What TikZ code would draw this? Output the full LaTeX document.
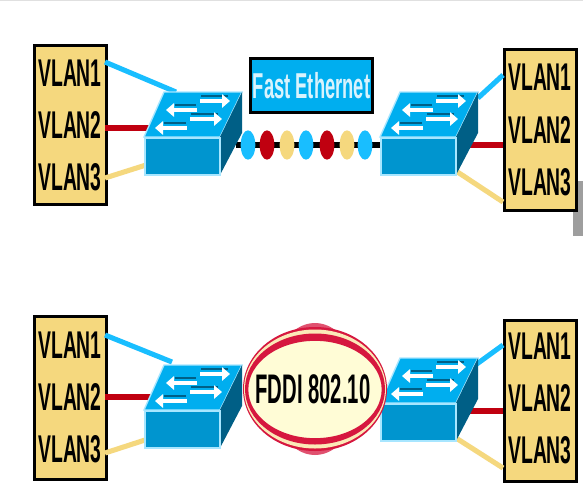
\documentclass[tikz,border=0pt]{standalone}
\usepackage{fontspec}
\setmainfont{Liberation Sans}
\usetikzlibrary{arrows.meta,shapes.geometric}
\definecolor{vyellow}{HTML}{F5D87E}
\definecolor{vred}{HTML}{C00010}
\definecolor{vblue}{HTML}{19BEFF}
\definecolor{swtop}{HTML}{00AEEF}
\definecolor{swfront}{HTML}{0095CF}
\definecolor{swside}{HTML}{005F86}
\definecolor{swedge}{HTML}{A8E6FF}
\definecolor{ringred}{HTML}{D6173F}
\definecolor{ringcream}{HTML}{FBE9B8}
\definecolor{fddi}{HTML}{FFFCD6}
\newcommand{\narrow}[2]{\scalebox{#1}[1]{#2}}
\tikzset{
  x=.75pt,y=-.75pt,
  vlanbox/.style={draw=black,fill=vyellow,line width=2.3pt,minimum width=54pt,inner sep=0pt},
  vlantext/.style={font=\fontsize{29}{29}\selectfont\bfseries,text=black,inner sep=0pt},
  link/.style={line width=3.8pt},
  redlink/.style={line width=5pt},
  swarrow/.style={draw=white,line width=3.6pt,-{Triangle[length=6pt,width=10pt]}},
  swshadow/.style={draw=swside,line width=1.5pt},
  bead/.style={ellipse,minimum width=11pt,minimum height=22pt,inner sep=0pt},
  netswitch/.pic={
    \fill[swtop,draw=swedge,line width=1pt] (0,0) -- (20,-45) -- (98,-45) -- (76,0) -- cycle;
    \fill[swside] (76,0) -- (98,-45) -- (98,-4) -- (76,38) -- cycle;
    \node[draw=swedge,fill=swfront,line width=1.4pt,minimum width=56pt,minimum height=28pt,inner sep=0pt,anchor=north west] (-front) at (0,0) {};
    \draw[swshadow] (57,-41) -- (84,-41);
    \draw[swarrow] (56,-36) -- (86,-36);
    \draw[swshadow] (31,-32) -- (52,-32);
    \draw[swarrow] (53,-27) -- (22,-27);
    \draw[swshadow] (47,-23) -- (74,-23);
    \draw[swarrow] (46,-18) -- (78,-18);
    \draw[swshadow] (20,-14) -- (42,-14);
    \draw[swarrow] (43,-9) -- (11,-9);
  }
}
\begin{document}
\begin{tikzpicture}
\useasboundingbox (0,0) rectangle (583,501);
\fill[white] (0,0) rectangle (583,501);
\fill[black!12] (0,0) rectangle (583,1);
\node[fill=black!38,minimum width=7.5pt,minimum height=41pt,inner sep=0pt,anchor=north west] (scrollbar) at (573,181) {};

% VLAN boxes
\node[vlanbox,minimum height=119pt,anchor=north west] (boxA) at (33,44) {};
\node[vlanbox,minimum height=121pt,anchor=north west] (boxB) at (503,48) {};
\node[vlanbox,minimum height=122pt,anchor=north west] (boxC) at (33,315) {};
\node[vlanbox,minimum height=121pt,anchor=north west] (boxD) at (503,319) {};

% Connector ends
\coordinate (a1) at (105,62);  \coordinate (a1s) at (176,92);
\coordinate (a2) at (105,128); \coordinate (a2s) at (150,128);
\coordinate (a3) at (105,178); \coordinate (a3s) at (146,165);
\coordinate (b1) at (503,75);  \coordinate (b1s) at (478,98);
\coordinate (b2) at (503,145); \coordinate (b2s) at (470,145);
\coordinate (b3) at (503,202); \coordinate (b3s) at (456,171);
\coordinate (c1) at (105,335); \coordinate (c1s) at (172,362);
\coordinate (c2) at (105,397); \coordinate (c2s) at (152,397);
\coordinate (c3) at (105,453); \coordinate (c3s) at (145,440);
\coordinate (d1) at (503,345); \coordinate (d1s) at (474,366);
\coordinate (d2) at (503,411); \coordinate (d2s) at (468,411);
\coordinate (d3) at (503,468); \coordinate (d3s) at (456,438);

\draw[link,vblue] (a1) -- (a1s);  \draw[redlink,vred] (a2) -- (a2s);  \draw[link,vyellow] (a3) -- (a3s);
\draw[link,vblue] (b1) -- (b1s);  \draw[redlink,vred] (b2) -- (b2s);  \draw[link,vyellow] (b3) -- (b3s);
\draw[link,vblue] (c1) -- (c1s);  \draw[redlink,vred] (c2) -- (c2s);  \draw[link,vyellow] (c3) -- (c3s);
\draw[link,vblue] (d1) -- (d1s);  \draw[redlink,vred] (d2) -- (d2s);  \draw[link,vyellow] (d3) -- (d3s);

% VLAN labels
\foreach \n/\x/\ya/\yb/\yc in {A/70/73/125/177, B/540/77/130/182, C/70/345/397/449, D/540/346/398/450}{
  \node[vlantext] (lab\n1) at (\x,\ya) {\narrow{.5}{VLAN1}};
  \node[vlantext] (lab\n2) at (\x,\yb) {\narrow{.5}{VLAN2}};
  \node[vlantext] (lab\n3) at (\x,\yc) {\narrow{.5}{VLAN3}};
}

% Fast Ethernet link
\coordinate (ethL) at (236,145);
\coordinate (ethR) at (380,145);
\draw[line width=5pt,black] (ethL) -- (ethR);
\foreach \i/\x/\c in {1/248/vblue,2/267/vred,3/287/vyellow,4/306/vblue,5/327/vred,6/347/vyellow,7/365/vblue}{
  \node[bead,fill=\c] (bead\i) at (\x,145) {};
}
\node[draw=black,fill=swtop,line width=2.3pt,minimum width=92pt,minimum height=41pt,inner sep=0pt] (fast) at (311.5,85.5)
  {\textcolor{white!85!swtop}{\fontsize{27}{27}\selectfont\bfseries\narrow{.51}{Fast Ethernet}}};

% Switches
\pic (swA) at (144,137) {netswitch};
\pic (swB) at (380,137) {netswitch};
\pic (swC) at (144,410) {netswitch};
\pic (swD) at (380,403) {netswitch};

% FDDI ring
\fill[ringred!75!white] (315,389) ellipse [x radius=45,y radius=66];
\fill[ringred] (315,389) ellipse [x radius=72,y radius=62];
\fill[ringcream] (315,389) ellipse [x radius=71,y radius=59.5];
\fill[ringred] (315,389) ellipse [x radius=70,y radius=55.5];
\fill[fddi,draw=ringred,line width=2pt] (315,389.5) ellipse [x radius=68,y radius=50];
\node[font=\fontsize{31}{31}\selectfont\bfseries,text=black,inner sep=0pt] (ring) at (313,389.5) {\narrow{.49}{FDDI 802.10}};
\end{tikzpicture}
\end{document}
